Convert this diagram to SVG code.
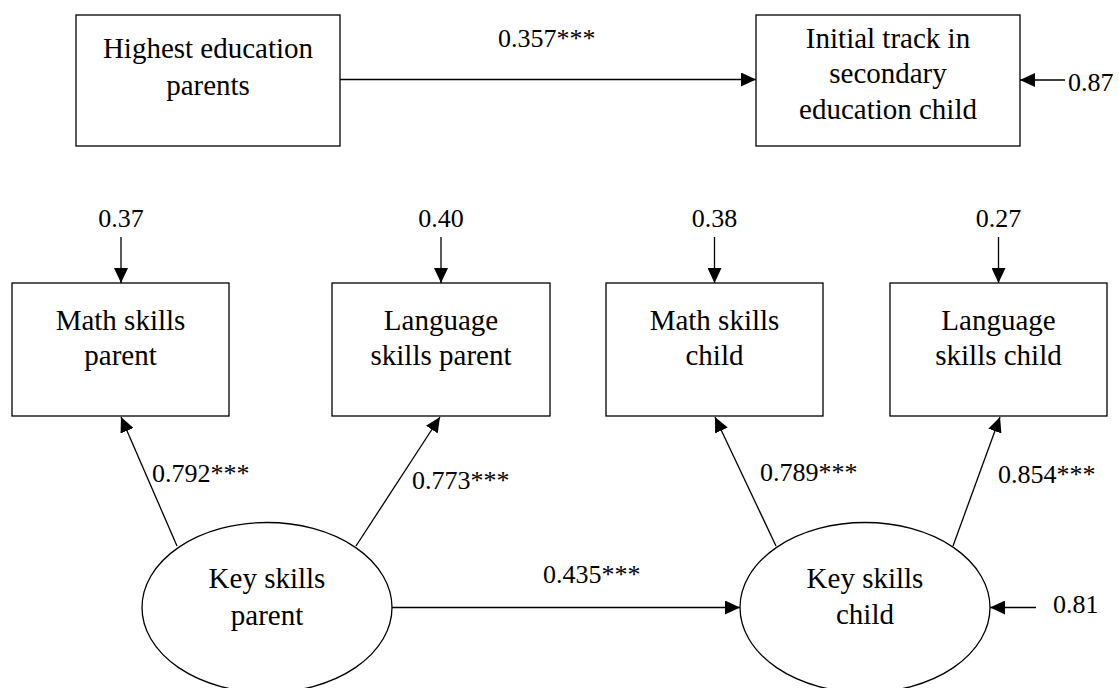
<svg xmlns="http://www.w3.org/2000/svg" width="1119" height="688" viewBox="0 0 1119 688">
<style>
.box{fill:#fff;stroke:#000;stroke-width:1.3}
.ell{fill:#fff;stroke:#000;stroke-width:1.3}
text{font-family:'Liberation Serif',Tinos,'Times New Roman','DejaVu Serif',serif;fill:#000}
.t{font-size:29px;text-anchor:middle}
.l{font-size:26px}
.c{stroke:#000;stroke-width:1.3;fill:none;marker-end:url(#ah)}
</style>
<defs>
<marker id="ah" markerUnits="userSpaceOnUse" markerWidth="16" markerHeight="14" refX="15" refY="7" orient="auto">
<path d="M0,0 L15,7 L0,14 Z" fill="#000"/>
</marker>
</defs>
<rect width="1119" height="688" fill="#fff"/>
<g id="connectors">
<line class="c" x1="340" y1="79.5" x2="756" y2="79.5"/>
<line class="c" x1="1065" y1="80" x2="1020" y2="80"/>
<line class="c" x1="121" y1="237" x2="121" y2="283"/>
<line class="c" x1="441" y1="237" x2="441" y2="283"/>
<line class="c" x1="714.5" y1="237" x2="714.5" y2="283"/>
<line class="c" x1="998.5" y1="237" x2="998.5" y2="283"/>
<line class="c" x1="177" y1="546" x2="121" y2="417"/>
<line class="c" x1="356" y1="546" x2="440" y2="417"/>
<line class="c" x1="776" y1="546" x2="715" y2="417"/>
<line class="c" x1="953" y1="546" x2="1000" y2="417"/>
<line class="c" x1="392" y1="607.5" x2="740" y2="607.5"/>
<line class="c" x1="1036" y1="607.5" x2="990" y2="607.5"/>
<text class="l" x="498" y="47" font-family="Liberation Serif, serif">0.357***</text>
<text class="l" x="1068" y="91">0.87</text>
<text class="l" x="121" y="227" text-anchor="middle">0.37</text>
<text class="l" x="441" y="227" text-anchor="middle">0.40</text>
<text class="l" x="714.5" y="227" text-anchor="middle">0.38</text>
<text class="l" x="998.5" y="227" text-anchor="middle">0.27</text>
<text class="l" x="152" y="482">0.792***</text>
<text class="l" x="412" y="489">0.773***</text>
<text class="l" x="760" y="481">0.789***</text>
<text class="l" x="998" y="483">0.854***</text>
<text class="l" x="543" y="583">0.435***</text>
<text class="l" x="1053" y="613">0.81</text>
</g>
<g id="highest-education-parents">
<rect class="box" x="76" y="15" width="264" height="131"/>
<text class="t" x="208" y="58">Highest education</text>
<text class="t" x="208" y="95">parents</text>
</g>
<g id="initial-track">
<rect class="box" x="756" y="15" width="264" height="131"/>
<text class="t" x="888" y="48">Initial track in</text>
<text class="t" x="888" y="83">secondary</text>
<text class="t" x="888" y="119">education child</text>
</g>
<g id="math-skills-parent">
<rect class="box" x="12" y="283" width="217" height="133"/>
<text class="t" x="120.5" y="330">Math skills</text>
<text class="t" x="120.5" y="365">parent</text>
</g>
<g id="language-skills-parent">
<rect class="box" x="332" y="283" width="218" height="133"/>
<text class="t" x="441" y="330">Language</text>
<text class="t" x="441" y="365">skills parent</text>
</g>
<g id="math-skills-child">
<rect class="box" x="606" y="283" width="217" height="133"/>
<text class="t" x="714.5" y="330">Math skills</text>
<text class="t" x="714.5" y="365">child</text>
</g>
<g id="language-skills-child">
<rect class="box" x="890" y="283" width="217" height="133"/>
<text class="t" x="998.5" y="330">Language</text>
<text class="t" x="998.5" y="365">skills child</text>
</g>
<g id="key-skills-parent">
<ellipse class="ell" cx="267" cy="607.5" rx="125" ry="85"/>
<text class="t" x="267" y="588">Key skills</text>
<text class="t" x="267" y="625">parent</text>
</g>
<g id="key-skills-child">
<ellipse class="ell" cx="865" cy="607.5" rx="125" ry="85"/>
<text class="t" x="865" y="588">Key skills</text>
<text class="t" x="865" y="624">child</text>
</g>
</svg>
